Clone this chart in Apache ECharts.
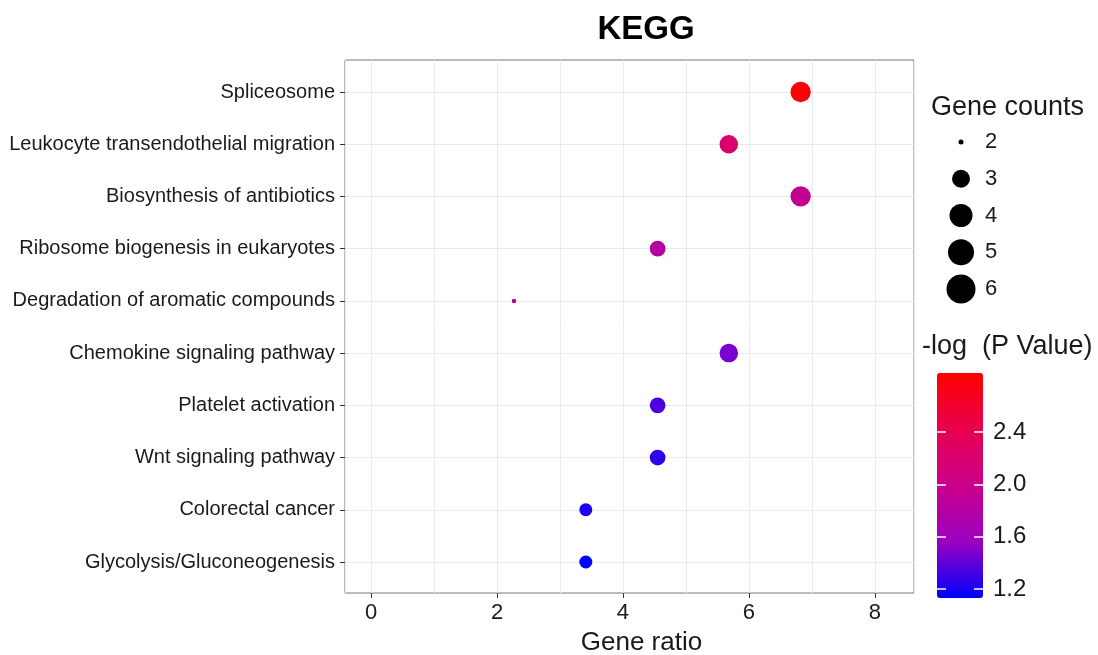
<!DOCTYPE html>
<html>
<head>
<meta charset="utf-8">
<title>KEGG</title>
<script src="https://cdn.jsdelivr.net/npm/echarts@6/dist/echarts.min.js"></script>
<style>
  html, body { margin: 0; padding: 0; background: #fff; }
  #main { width: 1098px; height: 655px; }
</style>
</head>
<body>
<div id="main"></div>
<script>
// pathways, top to bottom
var pathways = [
	'Spliceosome',
	'Leukocyte transendothelial migration',
	'Biosynthesis of antibiotics',
	'Ribosome biogenesis in eukaryotes',
	'Degradation of aromatic compounds',
	'Chemokine signaling pathway',
	'Platelet activation',
	'Wnt signaling pathway',
	'Colorectal cancer',
	'Glycolysis/Gluconeogenesis'
];
var geneRatio = [6.82, 5.68, 6.82, 4.55, 2.27, 5.68, 4.55, 4.55, 3.41, 3.41];
var geneCounts = [6, 5, 6, 4, 2, 5, 4, 4, 3, 3];
var logP = [2.85, 2.2, 1.92, 1.8, 1.76, 1.47, 1.34, 1.26, 1.21, 1.13];

var sizeLegend = ['2', '3', '4', '5', '6'];
var colorTicks = ['1.2', '1.6', '2.0', '2.4'];

// marker diameter per count (plot / legend)
var dotSize = { 2: 4.5, 3: 13, 4: 15.7, 5: 18.5, 6: 20.3 };
var keySize = { 2: 5, 3: 18, 4: 23, 5: 26, 6: 29 };

var myChart = echarts.init(document.getElementById('main'));

var points = [];
for (var i = 0; i < pathways.length; i++) {
	points.push([geneRatio[i], pathways[i], geneCounts[i], logP[i]]);
}
var keyPoints = [];
for (var j = 0; j < sizeLegend.length; j++) {
	keyPoints.push([0.5, sizeLegend[j], +sizeLegend[j]]);
}

var txt = '#1a1a1a';
var gridLine = { show: true, lineStyle: { color: '#ebebeb', width: 1 } };
var noZero = { show: false, onZero: false };

var option = {
	backgroundColor: '#fff',
	textStyle: { fontFamily: 'Liberation Sans, Arial, sans-serif' },
	title: [
		{ text: 'KEGG', left: 646, textAlign: 'center', top: 13, padding: 0,
		  textStyle: { fontSize: 33, fontWeight: 'bold', color: '#000' } },
		{ text: 'Gene counts', left: 931, top: 94, padding: 0,
		  textStyle: { fontSize: 27, fontWeight: 'normal', color: txt } },
		{ text: '-log  (P Value)', left: 922, top: 333, padding: 0,
		  textStyle: { fontSize: 27, fontWeight: 'normal', color: txt } }
	],
	grid: [
		// frame with x axis
		{ left: 345, right: 184, top: 60, bottom: 62, outerBoundsMode: 'none',
		  show: true, borderColor: '#7a7a7a', borderWidth: 1, backgroundColor: '#fff' },
		// data rows
		{ left: 345, right: 184, top: 92, bottom: 93, outerBoundsMode: 'none' },
		// size key
		{ left: 940, right: 116, top: 142, bottom: 366, outerBoundsMode: 'none' },
		// colour bar ticks
		{ left: 937, right: 115, top: 432, bottom: 66, outerBoundsMode: 'none' }
	],
	xAxis: [
		{ gridIndex: 0, type: 'value', position: 'bottom', min: -0.413, max: 8.62, splitNumber: 9,
		  axisLine: noZero, axisTick: { show: false }, axisLabel: { show: false },
		  splitLine: gridLine },
		{ gridIndex: 0, type: 'value', position: 'bottom', min: -0.413, max: 8.62, splitNumber: 4,
		  axisLine: noZero, splitLine: { show: false },
		  axisTick: { show: true, length: 5, lineStyle: { color: '#333' } },
		  axisLabel: { fontSize: 22, color: txt, margin: 9, showMinLabel: false, showMaxLabel: false },
		  name: 'Gene ratio', nameLocation: 'middle', nameGap: 37,
		  nameTextStyle: { fontSize: 26, color: txt, padding: [0, 0, 0, 24] } },
		{ gridIndex: 1, type: 'value', min: -0.413, max: 8.62, show: false, axisLine: noZero },
		{ gridIndex: 2, type: 'value', min: 0, max: 1, show: false, axisLine: noZero },
		{ gridIndex: 3, type: 'value', min: 0, max: 1, show: false, axisLine: noZero }
	],
	yAxis: [
		{ gridIndex: 0, type: 'value', min: 0, max: 1, show: false, axisLine: noZero },
		{ gridIndex: 1, type: 'category', data: pathways, inverse: true, boundaryGap: false,
		  position: 'left', axisLine: noZero,
		  axisTick: { show: true, length: 5, lineStyle: { color: '#333' } },
		  axisLabel: { fontSize: 20, color: txt, margin: 10 },
		  splitLine: gridLine },
		{ gridIndex: 2, type: 'category', data: sizeLegend, inverse: true, boundaryGap: false,
		  position: 'right', axisLine: noZero, axisTick: { show: false },
		  axisLabel: { fontSize: 22, color: txt, margin: 3 }, splitLine: { show: false } },
		{ gridIndex: 3, type: 'category', data: colorTicks, boundaryGap: false, position: 'left', z: 10,
		  axisLine: noZero, axisLabel: { show: false }, splitLine: { show: false },
		  axisTick: { show: true, inside: true, length: 9, lineStyle: { color: '#fff', width: 1.5 } } },
		{ gridIndex: 3, type: 'category', data: colorTicks, boundaryGap: false, position: 'right', z: 10,
		  axisLine: noZero, splitLine: { show: false },
		  axisTick: { show: true, inside: true, length: 9, lineStyle: { color: '#fff', width: 1.5 } },
		  axisLabel: { fontSize: 24, color: txt, margin: 10 } }
	],
	visualMap: {
		type: 'continuous',
		seriesIndex: 0,
		dimension: 3,
		min: 1.13,
		max: 2.85,
		orient: 'vertical',
		left: 937,
		top: 373,
		padding: 0,
		itemWidth: 46,
		itemHeight: 225,
		calculable: false,
		hoverLink: false,
		inRange: { color: ['#0000ff', '#9a00c2', '#ca0089', '#e80050', '#ff0000'] }
	},
	series: [
		{
			type: 'scatter',
			xAxisIndex: 2,
			yAxisIndex: 1,
			clip: false,
			z: 5,
			data: points,
			itemStyle: { opacity: 1 },
			symbolSize: function (v) { return dotSize[v[2]]; }
		},
		{
			type: 'scatter',
			xAxisIndex: 3,
			yAxisIndex: 2,
			clip: false,
			data: keyPoints,
			itemStyle: { color: '#000', opacity: 1 },
			symbolSize: function (v) { return keySize[v[2]]; }
		}
	]
};
myChart.setOption(option);
</script>
</body>
</html>
